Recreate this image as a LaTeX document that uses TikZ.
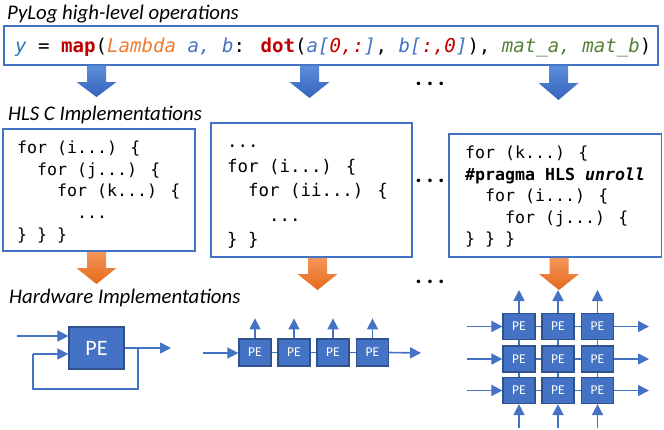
\documentclass[tikz,border=0pt]{standalone}
\usepackage{fontspec}
\setmainfont{Carlito}
\newfontfamily\codefont{DejaVu Sans Mono}
\usetikzlibrary{arrows.meta}
\definecolor{bblue}{HTML}{4472C4}
\definecolor{dblue}{HTML}{2F528F}
\definecolor{corange}{HTML}{ED7D31}
\definecolor{cred}{HTML}{C00000}
\definecolor{cgreen}{HTML}{548235}
\definecolor{cyblue}{HTML}{2E75B6}
\definecolor{btop}{HTML}{5B8ED8}
\definecolor{bbot}{HTML}{3563BD}
\definecolor{otop}{HTML}{F4955A}
\definecolor{obot}{HTML}{E56A1C}
\newcommand\blockarrow[5]{%
  \path[#5] ({#1-9.5},#2) -- ({#1+9.5},#2) -- ({#1+9.5},#3) -- ({#1+20},#3)
    -- (#1,#4) -- ({#1-20},#3) -- ({#1-9.5},#3) -- cycle;}
\begin{document}
\begin{tikzpicture}[x=1pt,y=-1pt,
  lbl/.style={anchor=base west,inner sep=0,font=\fontsize{20.8}{24}\selectfont\itshape},
  cbox/.style={draw=bblue,line width=1.3pt,inner sep=0},
  codeA/.style={anchor=base west,inner sep=0,font=\codefont\fontsize{16.6}{20}\selectfont},
  codeB/.style={anchor=base west,inner sep=0,font=\codefont\fontsize{17.4}{20}\selectfont},
  pe/.style={draw=dblue,fill=bblue,line width=1.2pt,minimum width=32pt,minimum height=27pt,
    inner sep=0,text=white,font=\fontsize{13.5}{15}\selectfont},
  wire/.style={draw=bblue,line width=1.6pt},
  arr/.style={wire,-{Triangle[length=11pt,width=11pt]}},
  dotsn/.style={anchor=base,inner sep=0,font=\fontsize{24}{26}\selectfont\bfseries},
  bluearr/.style={top color=btop,bottom color=bbot},
  orarr/.style={top color=otop,bottom color=obot}]
\useasboundingbox[fill=white] (0,0) rectangle (664,429);

% section labels
\node[lbl] (t1) at (7,19) {PyLog high-level operations};
\node[lbl] (t2) at (8,120) {HLS C Implementations};
\node[lbl] (t3) at (9,303) {Hardware Implementations};

% top PyLog code
\node[cbox,minimum width=654pt,minimum height=39pt] (top) at (331,45.5) {};
\node[anchor=base west,inner sep=0,font=\codefont\fontsize{19.1}{23}\selectfont] (toptext) at (15,52)
{\textcolor{cyblue}{\itshape y} = \textcolor{cred}{\bfseries map}(\textcolor{corange}{\itshape Lambda} \textcolor{bblue}{\itshape a, b}: \textcolor{cred}{\bfseries dot}(\textcolor{bblue}{\itshape a[}\textcolor{cred}{\itshape 0,:}\textcolor{bblue}{\itshape ]}, \textcolor{bblue}{\itshape b[}\textcolor{cred}{\itshape :,0}\textcolor{bblue}{\itshape ]}), \textcolor{cgreen}{\itshape mat\_a, mat\_b})};

% blue block arrows
\blockarrow{96.5}{65.5}{82}{97}{bluearr}
\blockarrow{309.5}{65.5}{82}{98}{bluearr}
\blockarrow{558.5}{65.5}{83}{100}{bluearr}
\node[dotsn] (d1) at (430,85.7) {.\hspace{5pt}.\hspace{5pt}.};

% HLS C boxes
\node[cbox,minimum width=192pt,minimum height=122pt] (b1) at (99,190) {};
\node[codeA] (b1l1) at (17,153) {for (i...) \{};
\node[codeA] (b1l2) at (37,175) {for (j...) \{};
\node[codeA] (b1l3) at (57,196) {for (k...) \{};
\node[codeA] (b1l4) at (77,218) {...};
\node[codeA] (b1l5) at (17,240) {\} \} \}};

\node[cbox,minimum width=201pt,minimum height=134pt] (b2) at (311.5,190) {};
\node[codeB] (b2l1) at (227,147) {...};
\node[codeB] (b2l2) at (227,172) {for (i...) \{};
\node[codeB] (b2l3) at (248,196.5) {for (ii...) \{};
\node[codeB] (b2l4) at (269,221) {...};
\node[codeB] (b2l5) at (227,245) {\} \}};

\node[dotsn] (d2) at (430,182.7) {.\hspace{5pt}.\hspace{5pt}.};

\node[cbox,minimum width=212.5pt,minimum height=123pt] (b3) at (555.25,195.5) {};
\node[codeA] (b3l1) at (465,158) {for (k...) \{};
\node[codeA] (b3l2) at (465,180) {\bfseries\#pragma HLS \itshape unroll};
\node[codeA] (b3l3) at (485,201) {for (i...) \{};
\node[codeA] (b3l4) at (505,223) {for (j...) \{};
\node[codeA] (b3l5) at (465,244) {\} \} \}};

% orange block arrows
\blockarrow{96.5}{252}{268}{284}{orarr}
\blockarrow{317.5}{258}{274}{290}{orarr}
\blockarrow{559}{258}{274}{290}{orarr}
\node[dotsn] (d3) at (430,283.7) {.\hspace{5pt}.\hspace{5pt}.};

% single PE with feedback
\node[pe,minimum width=55pt,minimum height=42pt,font=\fontsize{22}{26}\selectfont] (pe0) at (96.5,348) {PE};
\coordinate (in0) at (17,336);
\draw[arr] (in0) -- (in0 -| pe0.west);
\coordinate (out0) at (171,348);
\draw[arr] (pe0.east) -- (out0);
\coordinate (fbA) at (138,348);
\coordinate (fbB) at (138,389);
\coordinate (fbC) at (33,389);
\coordinate (fbD) at (33,354);
\draw[draw=bblue,line width=1.1pt] (fbA) -- (fbB) -- (fbC) -- (fbD);
\draw[arr,line width=1.1pt] (fbD) -- (fbD -| pe0.west);

% chain of PEs
\foreach \i/\x in {1/255,2/294,3/333,4/372.5}{
  \node[pe] (c\i) at (\x,352.5) {PE};
  \draw[arr] (c\i.north) -- ++(0,-20);
}
\draw[wire] (c1.east) -- (c2.west);
\draw[wire] (c2.east) -- (c3.west);
\draw[wire] (c3.east) -- (c4.west);
\coordinate (cin) at (203,353);
\coordinate (cout) at (421,353);
\draw[arr] (cin) -- (cin -| c1.west);
\draw[arr] (c4.east) -- (cout);

% PE grid
\foreach \r/\y in {1/326.5,2/359,3/390.5}{
  \foreach \c/\x in {1/519,2/558,3/597.5}{
    \node[pe,minimum height=26pt] (g\r\c) at (\x,\y) {PE};
  }
}
\foreach \r/\y in {1/326.5,2/359,3/390.5}{
  \coordinate (gl\r) at (467,\y);
  \coordinate (gr\r) at (649,\y);
  \draw[arr] (gl\r) -- (g\r1.west);
  \draw[arr] (g\r3.east) -- (gr\r);
  \draw[wire] (g\r1.east) -- (g\r2.west);
  \draw[wire] (g\r2.east) -- (g\r3.west);
}
\foreach \c/\x in {1/519,2/558,3/597.5}{
  \coordinate (gt\c) at (\x,290);
  \coordinate (gb\c) at (\x,428);
  \draw[arr] (g1\c.north) -- (gt\c);
  \draw[arr] (gb\c) -- (g3\c.south);
  \draw[wire] (g1\c.south) -- (g2\c.north);
  \draw[wire] (g2\c.south) -- (g3\c.north);
}
\end{tikzpicture}
\end{document}
